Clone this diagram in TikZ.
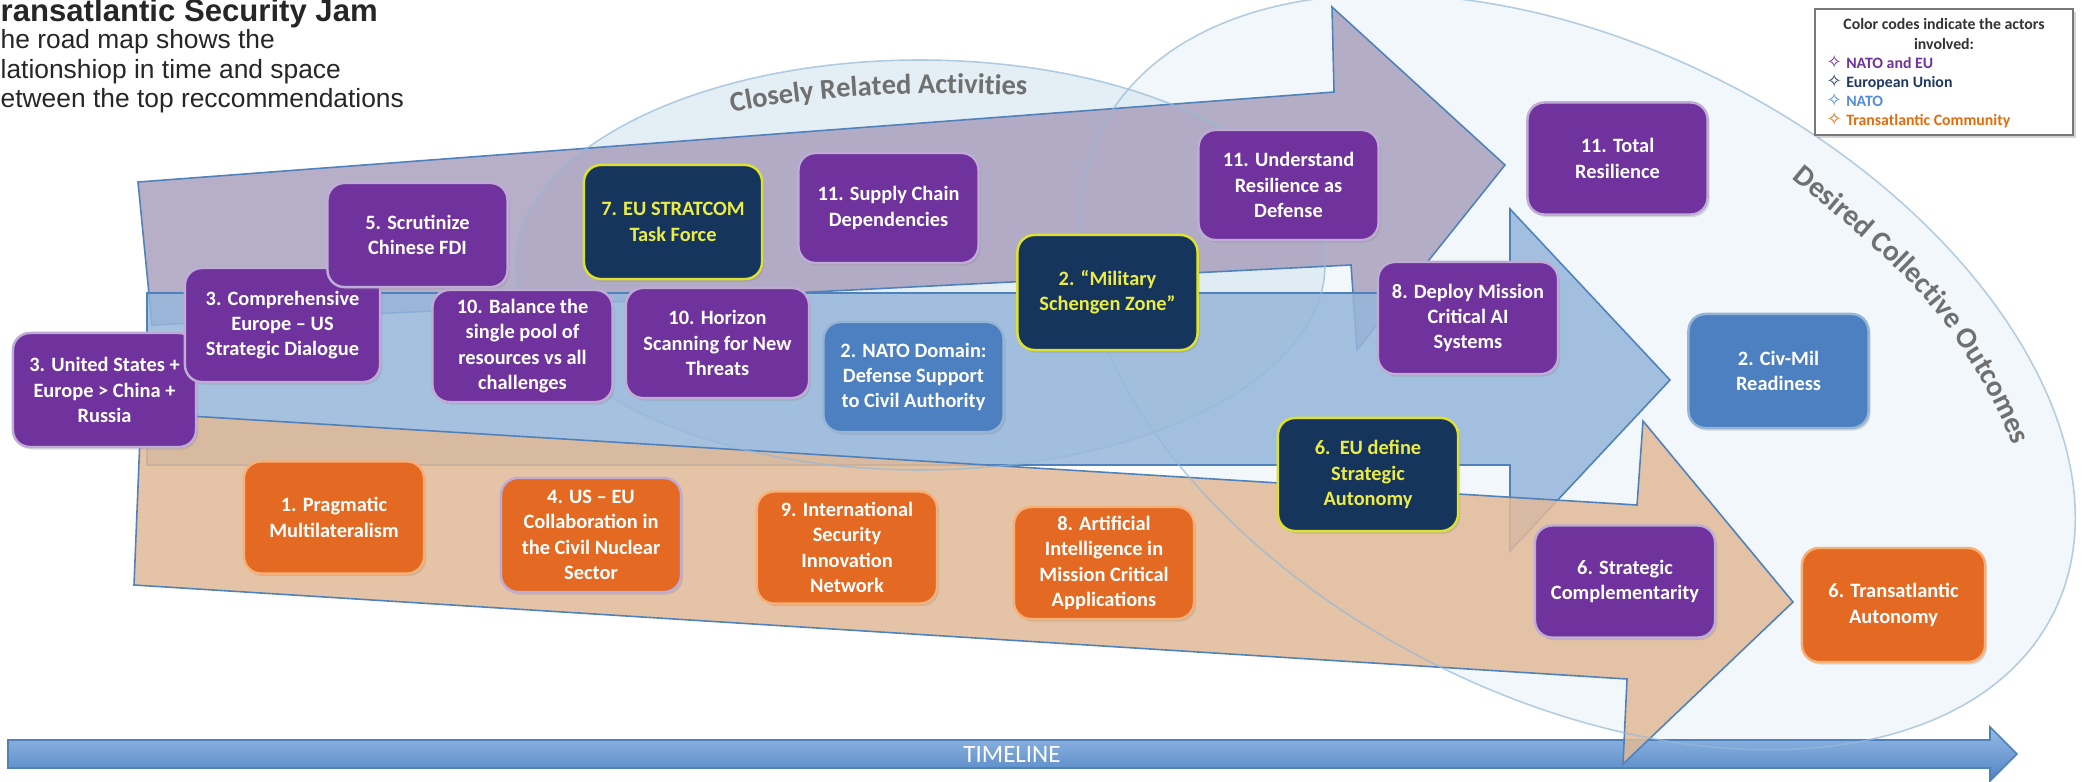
\documentclass[tikz,border=0pt]{standalone}
\usepackage{fontspec}
\setmainfont{Carlito}
\newfontfamily\arialfont{Liberation Sans}
\newfontfamily\symbolfont{DejaVu Sans}
\usepackage{tikz}
\usetikzlibrary{decorations.text,shadows}
\usepackage{xcolor}

\definecolor{purplebox}{RGB}{112,50,156}
\definecolor{purpleline}{RGB}{190,172,214}
\definecolor{navybox}{RGB}{22,53,92}
\definecolor{navyline}{RGB}{222,226,46}
\definecolor{navytext}{RGB}{236,236,70}
\definecolor{bluebox}{RGB}{76,128,192}
\definecolor{blueline}{RGB}{150,180,214}
\definecolor{orangebox}{RGB}{228,106,36}
\definecolor{orangeline}{RGB}{246,176,120}
\definecolor{edgeblue}{RGB}{79,129,189}
\definecolor{purplearrow}{RGB}{170,160,190}
\definecolor{bluearrow}{RGB}{150,182,218}
\definecolor{orangearrow}{RGB}{225,185,150}
\definecolor{ovalfill}{RGB}{215,232,240}
\definecolor{ovalline}{RGB}{150,185,215}
\definecolor{labelgrey}{RGB}{112,112,112}
\definecolor{legendgrey}{RGB}{120,120,120}
\definecolor{timetop}{RGB}{150,187,230}
\definecolor{timebottom}{RGB}{82,132,194}
\definecolor{legnavy}{RGB}{31,56,100}
\definecolor{legblue}{RGB}{85,142,213}
\definecolor{legorange}{RGB}{228,108,10}

\begin{document}
\begin{tikzpicture} [
      x = 0.01cm, y = -0.01cm,
      box/.style = { draw, line width = 0.7pt, rounded corners = 0.17cm, align = center,
        text = white, inner sep = 0, minimum width = 1.8cm, minimum height = 1.12cm,
        font = \fontsize{5.8}{7.2}\selectfont\bfseries,
        drop shadow={shadow xshift=0.02cm,shadow yshift=-0.025cm,opacity=0.25} },
      natoeu/.style = { box, fill = purplebox, draw = purpleline },
      eu/.style = { box, fill = navybox, draw = navyline, text = navytext },
      nato/.style = { box, fill = bluebox, draw = blueline },
      transat/.style = { box, fill = orangebox, draw = orangeline },
      band/.style = { draw = edgeblue, line width = 0.45pt, fill opacity = 0.85 },
      oval/.style = { draw = ovalline, line width = 0.45pt, draw opacity = 0.7 },
      legitem/.style = { anchor = base west, inner sep = 0, font = \fontsize{4.5}{5.5}\selectfont\bfseries },
      heading/.style = { anchor = base west, inner sep = 0, text = black!85, font = \arialfont\fontsize{7.5}{9}\selectfont }
      ]

      \useasboundingbox (0,0) rectangle (2085,781);

      \fill[ovalfill, fill opacity = 0.35, rotate around = {-27:(1577,372)}] (1577,372) ellipse [x radius = 534, y radius = 325];
      \fill[ovalfill, fill opacity = 0.7] (920,265) ellipse [x radius = 405, y radius = 205];

      \draw[edgeblue, line width = 0.45pt, top color = timetop, bottom color = timebottom]
        (8,740) -- (1990,740) -- (1990,727) -- (2017,754) -- (1990,781) -- (1990,768) -- (8,768) -- cycle;
      \node[font = \fontsize{7.1}{8}\selectfont, text = white, inner sep = 0] (timeline) at (1012,754) {TIMELINE};

      \draw[band, fill = purplearrow] (138,182) -- (1334,92) -- (1332,7) -- (1505,165) -- (1357,350) -- (1351,265) -- (152,325) -- cycle;
      \draw[band, fill = bluearrow] (147,293) -- (1510,293) -- (1510,209) -- (1670,380) -- (1510,551) -- (1510,465) -- (147,465) -- cycle;
      \draw[band, fill = orangearrow] (141,413) -- (1637,505) -- (1643,421) -- (1793,602) -- (1623,764) -- (1627,679) -- (134,585) -- cycle;

      \draw[oval, rotate around = {-27:(1577,372)}] (1577,372) ellipse [x radius = 534, y radius = 325];
      \draw[oval] (920,265) ellipse [x radius = 405, y radius = 205];

      \path[decorate, decoration = { text along path, text align = center,
          text = {|\fontsize{8.1}{9}\selectfont\bfseries\color{labelgrey}|Closely Related Activities} }]
        (700,120) .. controls (810,92) and (930,90) .. (1060,97);
      \path[decorate, decoration = { text along path, text align = center,
          text = {|\fontsize{8.4}{9}\selectfont\bfseries\color{labelgrey}|Desired Collective Outcomes} }]
        (1772,162) .. controls (1806.7,190.8) and (1882.2,251.5) .. (1917,290)
        .. controls (1963.9,341.8) and (1998.9,404.2) .. (2022,470);

      \node[natoeu, minimum width = 1.83cm, minimum height = 1.14cm] (usa) at (104.5,390) {3. United States +\\Europe > China +\\Russia};
      \node[natoeu, minimum width = 1.95cm, minimum height = 1.14cm] (dialogue) at (282.5,325) {3. Comprehensive\\Europe – US\\Strategic Dialogue};
      \node[natoeu, minimum height = 1.04cm] (fdi) at (417.5,235) {5. Scrutinize\\Chinese FDI};
      \node[natoeu] (balance) at (522.5,346) {10. Balance the\\single pool of\\resources vs all\\challenges};
      \node[natoeu, minimum width = 1.83cm, minimum height = 1.1cm] (horizon) at (717.5,343) {10. Horizon\\Scanning for New\\Threats};
      \node[eu, minimum width = 1.78cm, minimum height = 1.14cm] (stratcom) at (673,222) {7. EU STRATCOM\\Task Force};
      \node[natoeu, minimum height = 1.1cm] (supply) at (888.5,208) {11. Supply Chain\\Dependencies};
      \node[nato, minimum height = 1.1cm] (natodomain) at (913.5,377) {2. NATO Domain:\\Defense Support\\to Civil Authority};
      \node[eu, minimum height = 1.15cm] (schengen) at (1107.5,292.5) {2. “Military\\Schengen Zone”};
      \node[natoeu, minimum height = 1.1cm] (understand) at (1288.5,185) {11. Understand\\Resilience as\\Defense};
      \node[natoeu] (deploy) at (1468,318) {8. Deploy Mission\\Critical AI\\Systems};
      \node[eu, minimum height = 1.13cm] (euautonomy) at (1368,474.5) {6.\ \ EU define\\Strategic\\Autonomy};
      \node[natoeu] (total) at (1617.5,158.5) {11. Total\\Resilience};
      \node[nato, minimum height = 1.14cm] (civmil) at (1778.5,371) {2. Civ-Mil\\Readiness};
      \node[natoeu] (complement) at (1625,581.5) {6. Strategic\\Complementarity};
      \node[transat] (pragmatic) at (334,517.5) {1. Pragmatic\\Multilateralism};
      \node[transat, draw = purpleline, minimum height = 1.14cm] (nuclear) at (591,535) {4. US – EU\\Collaboration in\\the Civil Nuclear\\Sector};
      \node[transat] (innovation) at (847,547.5) {9. International\\Security\\Innovation\\Network};
      \node[transat] (aiapps) at (1104,563) {8. Artificial\\Intelligence in\\Mission Critical\\Applications};
      \node[transat, minimum width = 1.83cm, minimum height = 1.14cm] (transautonomy) at (1893.5,605) {6. Transatlantic\\Autonomy};

      \node[draw = legendgrey, fill = white, line width = 0.5pt, inner sep = 0, minimum width = 2.58cm, minimum height = 1.26cm,
        drop shadow={shadow xshift=0.03cm,shadow yshift=-0.03cm,opacity=0.35}] (legend) at (1944,72) {};
      \node[legitem, anchor = base, text = black!80] (legtitle) at (1944,29) {Color codes indicate the actors};
      \node[legitem, anchor = base, text = black!80] (legtitle2) at (1944,49) {involved:};
      \node[legitem, text = purplebox] (legnatoeu) at (1826,68) {{\symbolfont\fontsize{5.2}{6}\selectfont ✧}\hspace{1.2pt}NATO and EU};
      \node[legitem, text = legnavy] (legeu) at (1826,87) {{\symbolfont\fontsize{5.2}{6}\selectfont ✧}\hspace{1.2pt}European Union};
      \node[legitem, text = legblue] (legnato) at (1826,106) {{\symbolfont\fontsize{5.2}{6}\selectfont ✧}\hspace{1.2pt}NATO};
      \node[legitem, text = legorange] (legtrans) at (1826,125) {{\symbolfont\fontsize{5.2}{6}\selectfont ✧}\hspace{1.2pt}Transatlantic Community};

      \node[heading, font = \arialfont\bfseries\fontsize{8.85}{10}\selectfont] (title) at (0,21) {ransatlantic Security Jam};
      \node[heading] (sub1) at (0,48) {he road map shows the};
      \node[heading] (sub2) at (0,78) {lationshiop in time and space};
      \node[heading] (sub3) at (0,107) {etween the top reccommendations};
    \end{tikzpicture}
\end{document}
